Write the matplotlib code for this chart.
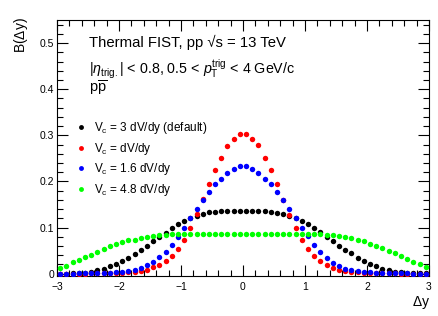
import numpy as np
import matplotlib
matplotlib.use("Agg")
import matplotlib.pyplot as plt
from matplotlib.lines import Line2D
from matplotlib.ticker import MultipleLocator

plt.rcParams['font.family'] = ['Liberation Sans', 'DejaVu Sans']
plt.rcParams['mathtext.fontset'] = 'custom'
plt.rcParams['mathtext.rm'] = 'Liberation Sans'
plt.rcParams['mathtext.it'] = 'Liberation Sans:italic'
plt.rcParams['mathtext.bf'] = 'Liberation Sans:bold'

# bin centres of delta y
dy = np.round(np.arange(-2.95, 3.0, 0.1), 2)

# Vc = 3 dV/dy (default)
b_default = [0.000, 0.000, 0.001, 0.001, 0.002, 0.004, 0.007, 0.011, 0.016, 0.022,
             0.028, 0.035, 0.043, 0.051, 0.060, 0.070, 0.080, 0.089, 0.098, 0.107,
             0.114, 0.121, 0.126, 0.130, 0.133, 0.134, 0.135, 0.135, 0.136, 0.136,
             0.136, 0.136, 0.135, 0.135, 0.134, 0.132, 0.130, 0.126, 0.121, 0.114,
             0.107, 0.098, 0.090, 0.080, 0.071, 0.061, 0.052, 0.044, 0.035, 0.028,
             0.022, 0.016, 0.011, 0.007, 0.004, 0.003, 0.002, 0.001, 0.001, 0.001]
# Vc = dV/dy
b_vc1 = [0.000, 0.000, 0.000, 0.000, 0.000, 0.001, 0.001, 0.001, 0.001, 0.002,
         0.002, 0.003, 0.004, 0.006, 0.009, 0.014, 0.019, 0.027, 0.038, 0.053,
         0.074, 0.100, 0.129, 0.161, 0.194, 0.224, 0.251, 0.277, 0.293, 0.303,
         0.303, 0.293, 0.278, 0.251, 0.224, 0.195, 0.160, 0.128, 0.099, 0.074,
         0.053, 0.038, 0.027, 0.019, 0.013, 0.009, 0.006, 0.004, 0.003, 0.002,
         0.002, 0.001, 0.001, 0.001, 0.001, 0.000, 0.000, 0.000, 0.000, 0.000]
# Vc = 1.6 dV/dy
b_vc16 = [0.000, 0.000, 0.000, 0.001, 0.001, 0.001, 0.001, 0.002, 0.002, 0.003,
          0.003, 0.005, 0.008, 0.012, 0.018, 0.026, 0.036, 0.048, 0.062, 0.079,
          0.099, 0.120, 0.140, 0.160, 0.177, 0.194, 0.206, 0.218, 0.228, 0.233,
          0.233, 0.228, 0.219, 0.206, 0.194, 0.177, 0.160, 0.141, 0.120, 0.100,
          0.081, 0.063, 0.047, 0.034, 0.024, 0.016, 0.011, 0.007, 0.005, 0.004,
          0.003, 0.002, 0.002, 0.001, 0.001, 0.001, 0.001, 0.000, 0.000, 0.000]
# Vc = 4.8 dV/dy
b_vc48 = [0.012, 0.017, 0.025, 0.030, 0.037, 0.041, 0.047, 0.054, 0.059, 0.064,
          0.068, 0.072, 0.074, 0.077, 0.079, 0.081, 0.083, 0.084, 0.085, 0.085,
          0.086, 0.085, 0.086, 0.085, 0.085, 0.086, 0.085, 0.085, 0.086, 0.085,
          0.085, 0.085, 0.086, 0.085, 0.085, 0.086, 0.086, 0.085, 0.085, 0.085,
          0.086, 0.085, 0.085, 0.084, 0.083, 0.081, 0.079, 0.077, 0.074, 0.070,
          0.065, 0.060, 0.055, 0.050, 0.044, 0.038, 0.032, 0.026, 0.020, 0.014]

labels = [r"V$_{\rm c}$ = 3 dV/dy (default)", r"V$_{\rm c}$ = dV/dy",
          r"V$_{\rm c}$ = 1.6 dV/dy", r"V$_{\rm c}$ = 4.8 dV/dy"]
colors = ['black', '#ff0000', '#0000ff', '#00ff00']

W, H = 439, 316
fig = plt.figure(figsize=(W/100, H/100), dpi=100)
ax = fig.add_axes([57/W, 1-276/H, (429-57)/W, (276-20)/H])

series = [b_default, b_vc1, b_vc16, b_vc48]
for y, c in zip(series, colors):
    ax.plot(dy, y, 'o', color=c, ms=3.9, mew=0, zorder=3)
    ax.errorbar(dy, y, xerr=0.03, fmt='none', ecolor=c, elinewidth=0.8, zorder=3)

ax.set_xlim(-3, 3)
ax.set_ylim(-0.005, 0.55)
ax.xaxis.set_major_locator(MultipleLocator(1))
ax.xaxis.set_minor_locator(MultipleLocator(0.2))
ax.yaxis.set_minor_locator(MultipleLocator(0.02))
ax.set_yticks([0, 0.1, 0.2, 0.3, 0.4, 0.5])
ax.set_yticklabels(['0', '0.1', '0.2', '0.3', '0.4', '0.5'])
ax.tick_params(which='both', direction='in', top=True, right=True, labelsize=7.5, width=0.8)
ax.tick_params(which='major', length=8)
ax.tick_params(which='minor', length=4)
ax.tick_params(axis='x', pad=4.5)
ax.tick_params(axis='y', pad=2)
for s in ax.spines.values():
    s.set_linewidth(0.8)

fig.text(21/W, 1-17/H, r"B($\Delta$y)", rotation=90, ha='center', va='top', fontsize=10)
fig.text(430/W, 1-306/H, r"$\Delta$y", ha='right', va='baseline', fontsize=10)

fig.text(89/W, 1-47/H, "Thermal FIST, pp \u221as = 13 TeV", fontsize=10.7, va='baseline')
fig.text(89/W, 1-74/H, r"$|\eta_{\rm trig.}|$ < 0.8, 0.5 < $p_{\rm T}^{\rm trig}$ < 4 GeV/c",
         fontsize=10.3, va='baseline')
fig.text(89/W, 1-93/H, r"p$\overline{\rm p}$", fontsize=10.5, va='baseline')

handles = [Line2D([], [], marker='o', ls='none', color=c, ms=3.5, mew=0) for c in colors]
fig.legend(handles, labels, loc='upper left', bbox_to_anchor=(75/W, 1-120/H),
           frameon=False, fontsize=8.5, handlelength=1.0, handletextpad=0.6,
           labelspacing=0.4, borderpad=0, borderaxespad=0)

fig.savefig("out.png", dpi=100)
